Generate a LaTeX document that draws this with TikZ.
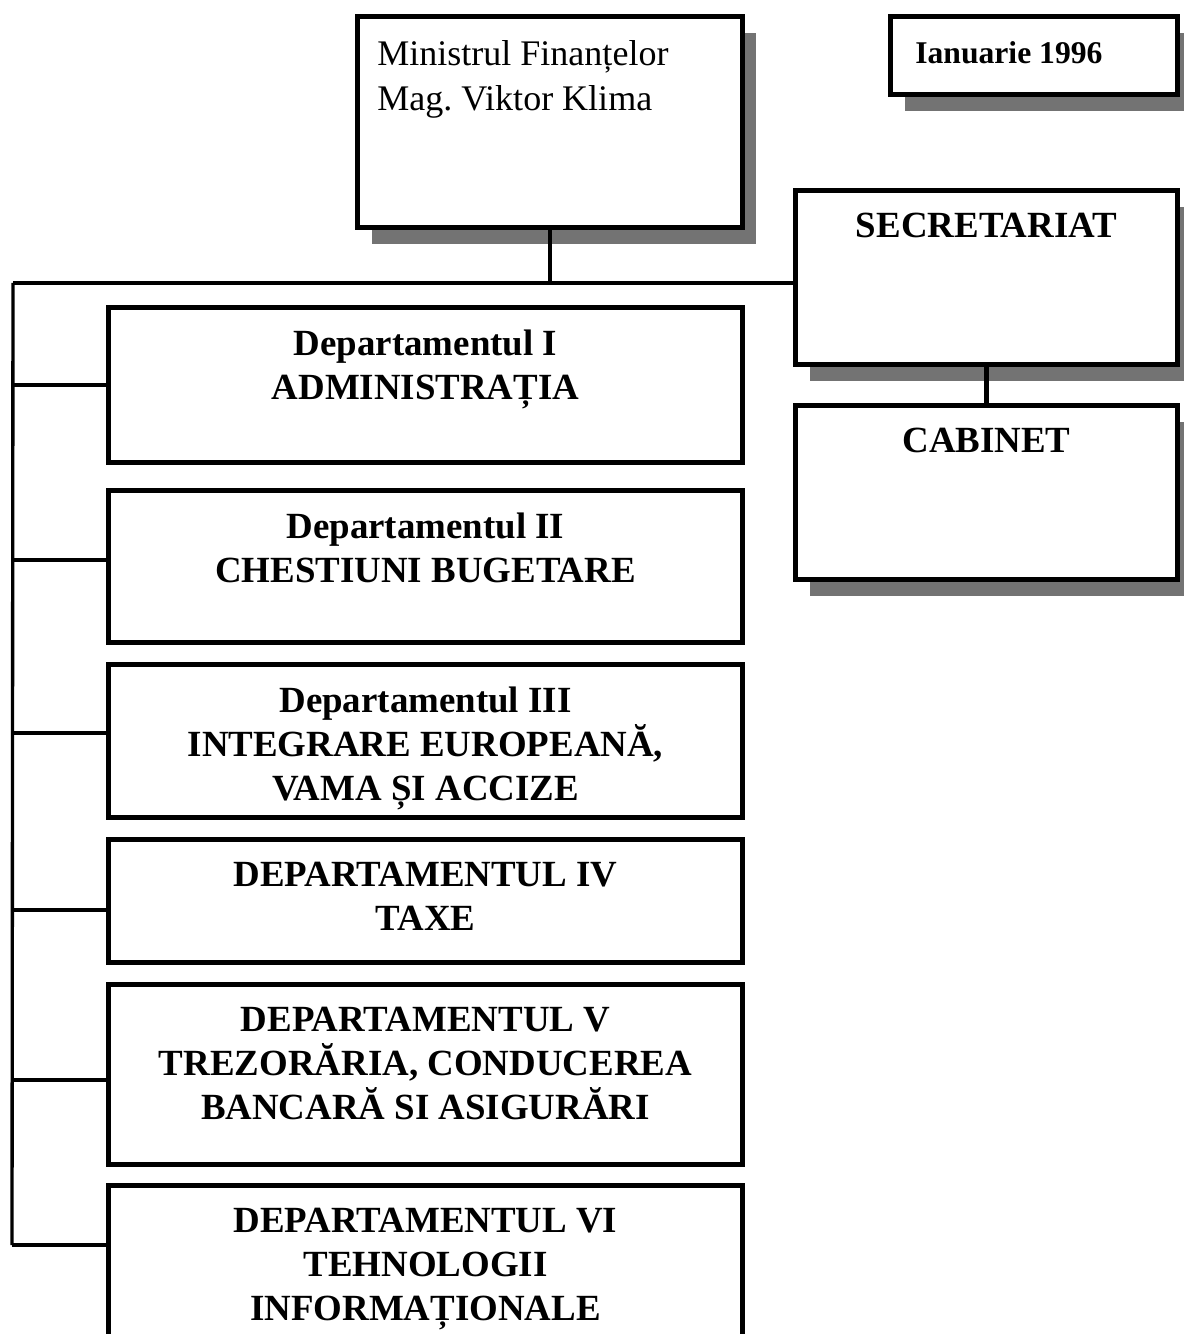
\documentclass[tikz,border=0pt]{standalone}
\usepackage{fontspec}
\setmainfont{Liberation Serif}
\usepackage{tikz}
\usetikzlibrary{positioning, shadows}
\frenchspacing

\tikzset{
  box/.style={draw, line width=2.9pt, fill=white, inner sep=0pt,
              anchor=north west},
  shbox/.style={box, general shadow={fill=black!55,
              shadow xshift=0.28cm, shadow yshift=-0.32cm}},
  dtext/.style={font=\bfseries\fontsize{21}{25}\selectfont, align=center,
              inner sep=0pt},
  mtext/.style={font=\fontsize{20.5}{25.6}\selectfont, align=left,
              inner sep=0pt},
  conn/.style={line width=2.8pt},
  spine/.style={line width=1.9pt}
}

\begin{document}
\begin{tikzpicture}[x=0.02cm, y=-0.02cm]
  \useasboundingbox (0,0) rectangle (1183,1334);

  %% top row
  \node[shbox, minimum width=7.7cm, minimum height=4.22cm] (minister) at (355,14) {};
  \node[shbox, minimum width=5.74cm, minimum height=1.56cm] (date) at (888,14) {};
  \node[mtext, anchor=north west] (mintext)
    at ([xshift=0.44cm, yshift=-0.52cm]minister.north west)
    {Ministrul Finanțelor\\Mag. Viktor Klima};
  \node[dtext, font=\bfseries\fontsize{18}{22}\selectfont, anchor=north west] (datetext)
    at ([xshift=0.54cm, yshift=-0.55cm]date.north west) {Ianuarie 1996};

  %% right column
  \node[shbox, minimum width=7.64cm, minimum height=3.48cm] (secr) at (793,188) {};
  \node[shbox, minimum width=7.64cm, minimum height=3.48cm] (cab) at (793,403) {};
  \node[dtext, below=0.5cm of secr.north] (secrtext) {SECRETARIAT};
  \node[dtext, below=0.5cm of cab.north] (cabtext) {CABINET};

  %% departments
  \node[box, minimum width=12.68cm, minimum height=3.1cm]  (d1) at (106,305) {};
  \node[box, minimum width=12.68cm, minimum height=3.04cm] (d2) at (106,488) {};
  \node[box, minimum width=12.68cm, minimum height=3.06cm] (d3) at (106,662) {};
  \node[box, minimum width=12.68cm, minimum height=2.46cm] (d4) at (106,837) {};
  \node[box, minimum width=12.68cm, minimum height=3.6cm]  (d5) at (106,982) {};
  \node[box, minimum width=12.68cm, minimum height=3.3cm]  (d6) at (106,1183) {};

  \node[dtext, below=0.5cm of d1.north] (d1text)
    {Departamentul I\\ADMINISTRAȚIA};
  \node[dtext, below=0.5cm of d2.north] (d2text)
    {Departamentul II\\CHESTIUNI BUGETARE};
  \node[dtext, below=0.5cm of d3.north] (d3text)
    {Departamentul III\\INTEGRARE EUROPEANĂ,\\VAMA ȘI ACCIZE};
  \node[dtext, below=0.5cm of d4.north] (d4text)
    {DEPARTAMENTUL IV\\TAXE};
  \node[dtext, below=0.5cm of d5.north] (d5text)
    {DEPARTAMENTUL V\\TREZORĂRIA, CONDUCEREA\\BANCARĂ SI ASIGURĂRI};
  \node[dtext, below=0.5cm of d6.north] (d6text)
    {DEPARTAMENTUL VI\\TEHNOLOGII\\INFORMAȚIONALE};

  %% connectors
  \coordinate (bus) at (13,283);
  \coordinate (spine end) at (12,1245);
  \draw[conn] (minister.south) -- (minister.south |- bus);
  \draw[conn] (bus) -- (bus -| secr.west);
  \draw[conn] (secr.south) -- (cab.north);
  \draw[spine] (bus) -- (spine end);
  \foreach \d/\y in {d1/385, d2/560, d3/733, d4/910, d5/1080, d6/1245} {
    \draw[conn] (12,\y) -- (\d.west |- 12,\y);
  }
\end{tikzpicture}
\end{document}
